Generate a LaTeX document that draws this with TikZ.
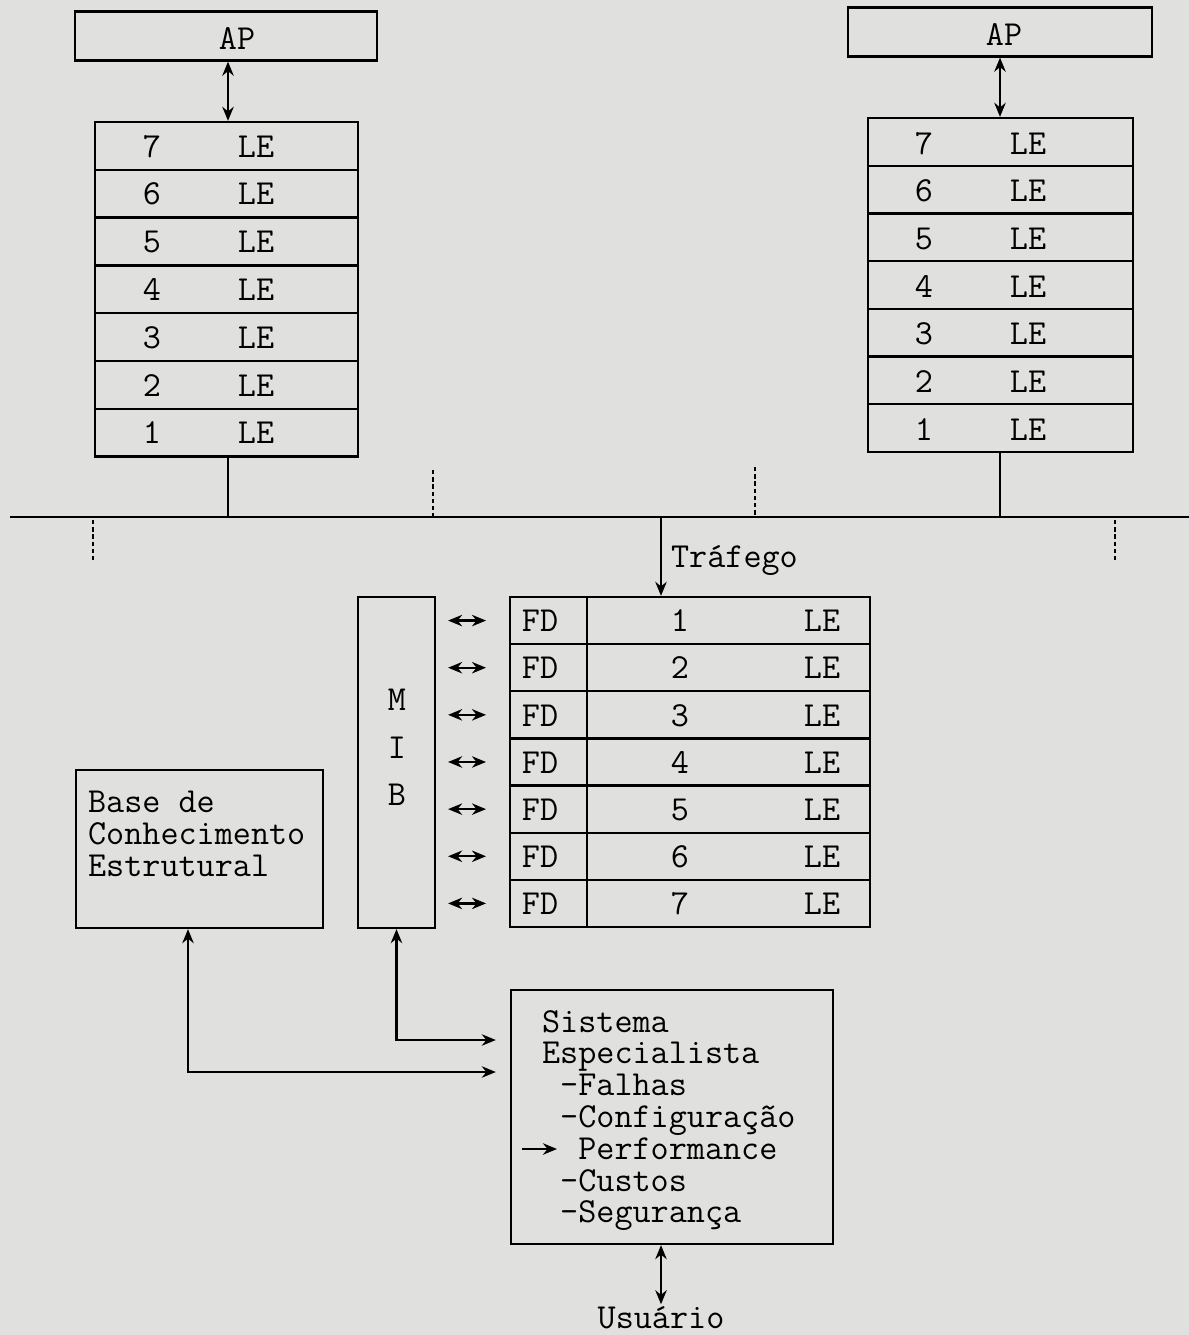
\documentclass[tikz,border=0pt]{standalone}
\usepackage{fontspec}
\usetikzlibrary{arrows.meta}
\definecolor{paper}{RGB}{224,224,222}
\tikzset{
  txt/.style={font=\ttfamily\fontsize{20}{20}\selectfont,inner sep=0pt,
    text height=0.6em,text depth=0pt},
  blk/.style={font=\ttfamily\fontsize{20}{#1}\selectfont,inner sep=0pt,
    align=left,anchor=north west},
  cell/.style={draw,inner sep=0pt},
  dbl/.style={{Stealth[length=8pt,width=6.5pt]}-{Stealth[length=8pt,width=6.5pt]}},
  one/.style={-{Stealth[length=8pt,width=6.5pt]}},
  stub/.style={dash pattern=on 2.5pt off 1.6pt},
}
\begin{document}
\begin{tikzpicture}[x=0.02cm,y=-0.02cm,line width=1.3pt]
\fill[paper] (0,0) rectangle (1189,1335);
\useasboundingbox (0,0) rectangle (1189,1335);
% application processes
\node[cell,minimum width=6.04cm,minimum height=0.98cm] (apL) at (226,36) {};
\node[txt] at (237,44) {AP};
\node[cell,minimum width=6.08cm,minimum height=0.98cm] (apR) at (1000,32) {};
\node[txt] at (1004,40) {AP};
% the two stacks
\foreach \n [evaluate=\n as \y using {122+47.8*(7.5-\n)}] in {7,...,1}{
  \node[cell,minimum width=5.26cm,minimum height=0.956cm] (l\n) at (226.5,\y) {};
  \node[txt] at (152,\y+6) {\n};
  \node[txt] at (256,\y+6) {LE};
}
\foreach \n [evaluate=\n as \y using {118+47.7*(7.5-\n)}] in {7,...,1}{
  \node[cell,minimum width=5.30cm,minimum height=0.954cm] (r\n) at (1000.5,\y) {};
  \node[txt] at (924,\y+7) {\n};
  \node[txt] at (1028,\y+7) {LE};
}
\draw[dbl] (apL.south -| 228,0) -- (l7.north -| 228,0);
\draw[dbl] (apR.south) -- (r7.north -| apR.south);
% bus
\coordinate (busw) at (10,517);
\coordinate (buse) at (1189,517);
\draw (busw) -- (buse);
\draw (l1.south -| 228,0) -- (busw -| 228,0);
\draw (r1.south -| 1000,0) -- (busw -| 1000,0);
\foreach \x/\a/\b in {93/520/563,433/470/517,755/467/515,1115/520/563}{
  \draw[stub] (\x,\a) -- (\x,\b);}
% monitor
\foreach \n [evaluate=\n as \y using {597+47.14*(\n-0.5)}] in {1,...,7}{
  \node[cell,minimum width=1.54cm,minimum height=0.943cm] (fd\n) at (548.5,\y) {};
  \node[cell,minimum width=5.66cm,minimum height=0.943cm] (ly\n) at (728.5,\y) {};
  \node[txt] at (540,\y+6) {FD};
  \node[txt] at (680,\y+6) {\n};
  \node[txt] at (822,\y+6) {LE};
}
\coordinate (traf) at (661,517);
\draw[one] (traf) -- (traf |- ly1.north);
\node[txt,anchor=west] at (670,562) {Tráfego};
\node[cell,minimum width=1.54cm,minimum height=6.62cm] (mib) at (396.5,762.5) {};
\foreach \c/\y in {M/705,I/753,B/800}{\node[txt] at (397,\y) {\c};}
\foreach \n in {1,...,7}{
  \draw[dbl,shorten <=6.8pt,shorten >=13pt] (mib.east |- fd\n.west) -- (fd\n.west);}
% knowledge base
\node[cell,minimum width=4.94cm,minimum height=3.16cm] (base) at (199.5,849) {};
\node[blk=18.1] (basetxt) at (87,790) {Base de\\Conhecimento\\Estrutural};
% expert system
\node[cell,minimum width=6.44cm,minimum height=5.08cm] (sist) at (672,1117) {};
\node[blk=18.1] (sisttxt) at (541,1009) {Sistema\\Especialista\\
  \hphantom{x}-Falhas\\\hphantom{x}-Configuração\\\hphantom{xx}Performance\\
  \hphantom{x}-Custos\\\hphantom{x}-Segurança};
\coordinate (perfarrow) at (522,1149);
\draw[one] (perfarrow) -- ++(35,0);
\draw[dbl,shorten >=8pt] (mib.south) |- (sist.west |- 0,1040);
\draw[dbl,shorten >=8pt] (base.south -| 188,0) |- (sist.west |- 0,1072);
\node[txt] (user) at (661,1323) {Usuário};
\draw[dbl,shorten >=7pt] (sist.south -| user) -- (user.north);
\end{tikzpicture}
\end{document}
